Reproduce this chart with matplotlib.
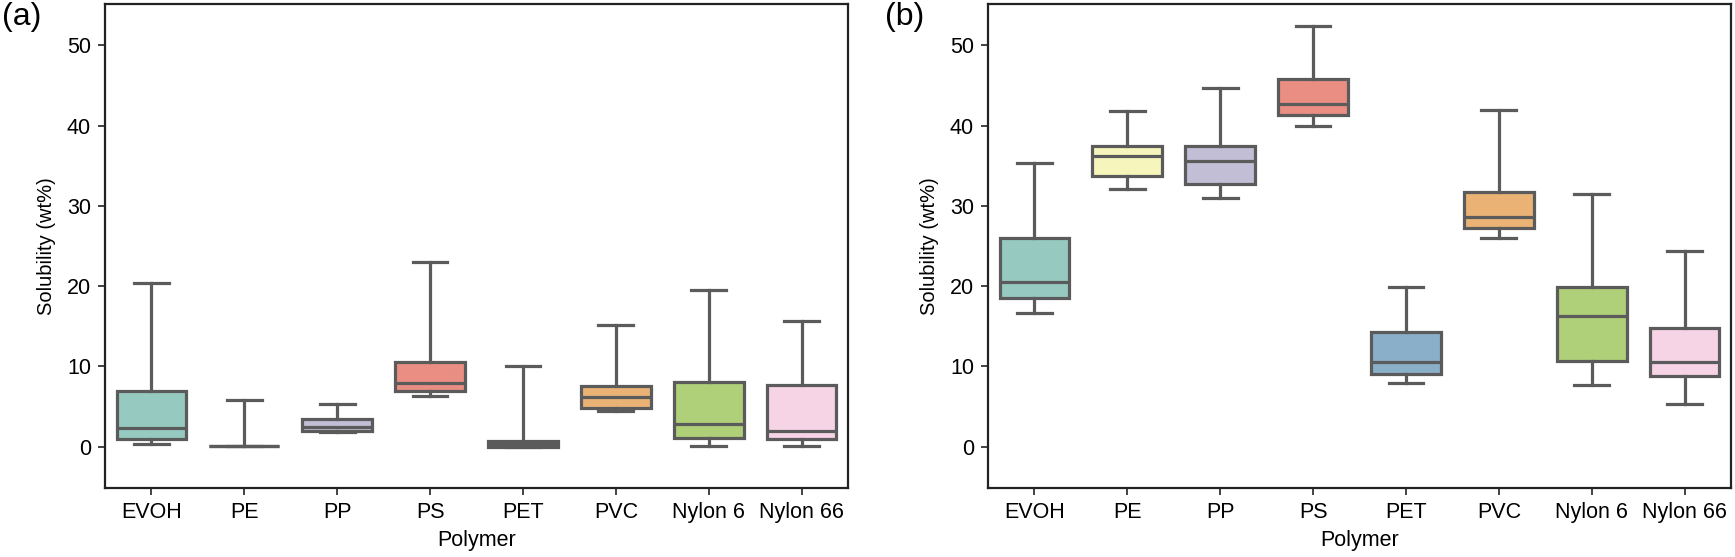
import colorsys
import matplotlib
matplotlib.use("Agg")
import matplotlib.pyplot as plt
from matplotlib.colors import to_rgb

plt.rcParams['font.family'] = ['Liberation Sans', 'DejaVu Sans']

polymers = ["EVOH", "PE", "PP", "PS", "PET", "PVC", "Nylon 6", "Nylon 66"]
palette = ["#8dd3c7", "#ffffb3", "#bebada", "#fb8072",
           "#80b1d3", "#fdb462", "#b3de69", "#fccde5"]

# Panel (a): whisker low, Q1, median, Q3, whisker high
a_whislo = [0.35, 0.05, 1.8, 6.35, 0.0, 4.5, 0.15, 0.1]
a_q1     = [0.95, 0.05, 2.0, 7.0, 0.0, 4.8, 1.05, 0.95]
a_med    = [2.35, 0.08, 2.4, 8.0, 0.3, 6.15, 2.85, 1.9]
a_q3     = [6.9, 0.1, 3.4, 10.6, 0.7, 7.6, 8.1, 7.65]
a_whishi = [20.4, 5.8, 5.3, 23.0, 10.1, 15.15, 19.5, 15.7]

# Panel (b)
b_whislo = [16.7, 32.1, 31.0, 39.9, 8.0, 26.0, 7.7, 5.3]
b_q1     = [18.5, 33.7, 32.7, 41.3, 9.05, 27.3, 10.7, 8.85]
b_med    = [20.55, 36.15, 35.6, 42.7, 10.5, 28.55, 16.3, 10.5]
b_q3     = [25.95, 37.45, 37.5, 45.8, 14.3, 31.75, 19.85, 14.85]
b_whishi = [35.3, 41.85, 44.7, 52.4, 19.85, 41.9, 31.45, 24.4]

yticks = [0, 10, 20, 30, 40, 50]


def desat(c, s=0.75):
    r, g, b = to_rgb(c)
    h, l, sat = colorsys.rgb_to_hls(r, g, b)
    return colorsys.hls_to_rgb(h, l, sat * s)


line_c = "#5b5b5b"
lw = 2.3

fig = plt.figure(figsize=(17.35, 5.57), dpi=100)
ax_a = fig.add_axes([105 / 1735, 1 - 487.7 / 557, 743 / 1735, 483.4 / 557])
ax_b = fig.add_axes([988 / 1735, 1 - 487.7 / 557, 743 / 1735, 483.4 / 557])


def draw(ax, wl, q1, med, q3, wh):
    stats = []
    for i, name in enumerate(polymers):
        stats.append(dict(label=name, whislo=wl[i], q1=q1[i], med=med[i],
                          q3=q3[i], whishi=wh[i], fliers=[]))
    bp = ax.bxp(stats, positions=range(len(polymers)), widths=0.75,
                patch_artist=True, showfliers=False,
                boxprops=dict(edgecolor=line_c, linewidth=lw),
                medianprops=dict(color=line_c, linewidth=lw),
                whiskerprops=dict(color=line_c, linewidth=lw),
                capprops=dict(color=line_c, linewidth=lw))
    for patch, col in zip(bp['boxes'], palette):
        patch.set_facecolor(desat(col))
    ax.set_xlim(-0.5, len(polymers) - 0.5)
    ax.set_ylim(-5.1, 55.1)
    ax.set_yticks(yticks)
    ax.set_xticks(range(len(polymers)))
    ax.set_xticklabels(polymers)
    ax.tick_params(axis='both', labelsize=15.5, length=5, width=1.2,
                   color="#222222", pad=5)
    ax.set_xlabel("Polymer", fontsize=15.5, labelpad=5)
    ax.set_ylabel("Solubility (wt%)", fontsize=14.5, labelpad=8)
    for sp in ax.spines.values():
        sp.set_linewidth(1.6)
        sp.set_color("#222222")


draw(ax_a, a_whislo, a_q1, a_med, a_q3, a_whishi)
draw(ax_b, b_whislo, b_q1, b_med, b_q3, b_whishi)

fig.text(2 / 1735, 1 - 2 / 557, "(a)", fontsize=23, ha='left', va='top')
fig.text(885 / 1735, 1 - 2 / 557, "(b)", fontsize=23, ha='left', va='top')

fig.savefig("out.png", dpi=100)
